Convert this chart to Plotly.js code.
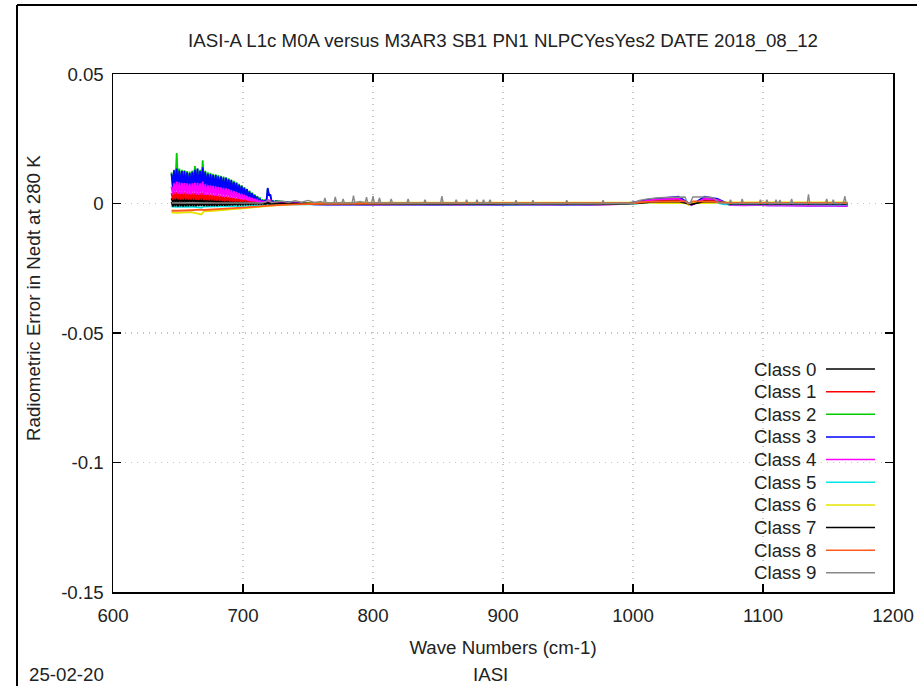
<!DOCTYPE html>
<html><head><meta charset="utf-8">
<script src="https://cdn.plot.ly/plotly-3.0.1.min.js"></script>
<style>html,body{margin:0;padding:0;background:#fff}#chart{width:917px;height:686px}</style>
</head><body><div id="chart"></div>
<script>
// ---------- DATA ----------
const classNames = ["Class 0","Class 1","Class 2","Class 3","Class 4","Class 5","Class 6","Class 7","Class 8","Class 9"];
const classColors = ["#000000","#ff0000","#00cc00","#0000ff","#ff00ff","#00e5e5","#e5e500","#000000","#ff5a1a","#888888"];

const xTickVals = [600,700,800,900,1000,1100,1200];
const xTickText = ["600","700","800","900","1000","1100","1200"];
const yTickVals = [0.05,0,-0.05,-0.1,-0.15];
const yTickText = ["0.05","0","-0.05","-0.1","-0.15"];

// noisy start of the band: channel peaks (odd wavenumbers) and troughs (even wavenumbers)
const wnPeak = [645,647,649,651,653,655,657,659,661,663,665,667,669,671,673,675,677,679,681,683,685,687,689,691,693,695,697,699,701,703,705,707,709,711,713,715,717,719,721,723,725];
const wnTrough = [646,648,650,652,654,656,658,660,662,664,666,668,670,672,674,676,678,680,682,684,686,688,690,692,694,696,698,700,702,704,706,708,710,712,714,716,718,720,722,724];
// rest of the band
const wnCoarse = [735,745,755,
  765,775,785,795,805,815, 825,835,845,855,865,875, 885,895,905,915,925,935, 945,955,965,975,985,995,
  1005,1015,1025,1035,1045,1055,1065,1075,
  1085,1095,1105,1115,1125,1135,1145,1155,1165];

// Class 0
const err0Peak = [.002,.0022,.0023,.0022,.0021,.0021,.002,.002,.002,.0021, .0021,.0022,.0024,.002,.0019,.0019,.0018,.0018,.0017,.0017, .0016,.0016,.0015,.0014,.0013,.0012,.0011,.001,.0009,.0008, .0007,.0006,.0005,.0004,.0003,.0002,.0002,.0006,.0003,.0001, .0001];
const err0Trough = [.0005,.0006,.0006,.0005,.0005,.0005,.0005,.0005,.0004,.0004, .0004,.0004,.0004,.0004,.0004,.0003,.0003,.0003,.0003,.0003, .0003,.0002,.0002,.0002,.0002,.0001,.0001,.0001,.0001,0, 0,0,0,0,0,0,0,.0002,0,0];
const err0Coarse = [0,0,0,
  0,0.0001,0,0,0.0001,0, 0,0,0.0001,0,0,0, 0,0.0001,0,0,0,0, 0,0,0,0,0,0.0001,
  0.0003,0.0008,0.001,0.001,-0.0002,0.001,0.0008,0,
  0,0,0,0,0,0,0,0,0];

// Class 1
const err1Peak = [.004,.0044,.0045,.0044,.0043,.0043,.0042,.0042,.0041,.0041, .004,.004,.0042,.0038,.0036,.0035,.0034,.0033,.0031,.003, .0028,.0027,.0025,.0024,.0022,.002,.0019,.0017,.0016,.0014, .0012,.001,.0009,.0007,.0006,.0005,.0004,.0008,.0006,.0002, .0002];
const err1Trough = [.0015,.0016,.0016,.0015,.0015,.0015,.0015,.0015,.0014,.0014, .0014,.0014,.0013,.0013,.0012,.0012,.0011,.0011,.001,.001, .0009,.0009,.0008,.0008,.0007,.0007,.0006,.0006,.0005,.0005, .0004,.0004,.0003,.0002,.0001,.0001,.0001,.0004,.0001,.0001];
const err1Coarse = [0.0001,0,-0.0001,
  -0.0001,-0.0001,-0.0002,-0.0001,-0.0001,-0.0001, -0.0002,-0.0001,-0.0001,-0.0001,-0.0002,-0.0001, -0.0001,-0.0001,-0.0002,-0.0001,-0.0001,-0.0001, -0.0001,-0.0002,-0.0001,-0.0001,-0.0001,0,
  0.0005,0.0011,0.0013,0.0014,-0.0003,0.0014,0.0011,-0.0002,
  -0.0002,-0.0002,-0.0003,-0.0002,-0.0002,-0.0003,-0.0002,-0.0003,-0.0003];

// Class 2
const err2Peak = [.012,.013,.0195,.0135,.013,.0128,.0125,.0123,.0127,.0145, .0135,.013,.0167,.0126,.012,.0118,.0115,.0113,.011,.0107, .0104,.0101,.0097,.0092,.0087,.0082,.0076,.007,.0063,.0056, .0049,.0042,.0035,.0028,.0021,.0014,.0013,.0055,.0032,.001, .001];
const err2Trough = [.007,.0075,.0075,.0073,.0072,.007,.007,.007,.0072,.0073, .007,.0072,.0073,.007,.0068,.0066,.0064,.0062,.006,.0058, .0056,.0054,.0052,.005,.0047,.0044,.0041,.0038,.0035,.0031, .0027,.0023,.0019,.0015,.0011,.0008,.0008,.0035,.0008,.0005];
const err2Coarse = [0.0005,0.0002,-0.0002,
  -0.0003,-0.0002,-0.0003,-0.0003,-0.0004,-0.0003, -0.0002,-0.0003,-0.0003,-0.0004,-0.0003,-0.0002, -0.0003,-0.0003,-0.0004,-0.0003,-0.0003,-0.0002, -0.0003,-0.0003,-0.0004,-0.0003,-0.0002,0,
  0.0006,0.0015,0.0018,0.0021,-0.0005,0.0021,0.0015,-0.0005,
  -0.0005,-0.0005,-0.0006,-0.0005,-0.0006,-0.0006,-0.0005,-0.0006,-0.0007];

// Class 3
const err3Peak = [.0115,.0128,.0135,.0127,.0125,.0125,.012,.0117,.0122,.013, .0135,.0125,.014,.0122,.0115,.0114,.011,.011,.0105,.0104, .01,.0099,.0093,.009,.0083,.008,.0072,.0068,.006,.0055, .0046,.004,.0032,.0026,.0018,.0012,.0012,.006,.0035,.0008, .0008];
const err3Trough = [.006,.0065,.0065,.0063,.0062,.006,.006,.006,.0062,.0063, .006,.0062,.0063,.006,.0058,.0056,.0054,.0052,.005,.0048, .0046,.0044,.0042,.004,.0037,.0034,.0031,.0028,.0025,.0022, .0018,.0014,.001,.0007,.0004,.0002,.0004,.003,.0006,.0002];
const err3Coarse = [0.0004,0.0001,-0.0003,
  -0.0004,-0.0003,-0.0004,-0.0005,-0.0004,-0.0003, -0.0004,-0.0004,-0.0005,-0.0004,-0.0003,-0.0004, -0.0004,-0.0005,-0.0004,-0.0004,-0.0003,-0.0004, -0.0005,-0.0004,-0.0004,-0.0003,-0.0002,0,
  0.0008,0.0018,0.0022,0.0026,-0.0006,0.0026,0.0018,-0.0006,
  -0.0006,-0.0005,-0.0007,-0.0006,-0.0007,-0.0008,-0.0007,-0.0008,-0.0009];

// Class 4
const err4Peak = [.0065,.0078,.0085,.0082,.008,.0079,.0078,.0077,.0078,.008, .008,.0078,.0085,.0074,.007,.0069,.0068,.0066,.0063,.0062, .006,.0058,.0055,.0052,.0048,.0044,.004,.0037,.0033,.0029, .0025,.0021,.0018,.0014,.001,.0007,.0006,.0015,.0012,.0004, .0004];
const err4Trough = [.0035,.0038,.0038,.0037,.0037,.0036,.0036,.0035,.0035,.0035, .0034,.0034,.0033,.0033,.0032,.0031,.003,.0029,.0028,.0027, .0026,.0025,.0023,.0022,.002,.0018,.0017,.0015,.0013,.0011, .001,.0008,.0006,.0005,.0003,.0002,.0002,.0008,.0002,.0001];
const err4Coarse = [0.0002,0,-0.0003,
  -0.0004,-0.0004,-0.0003,-0.0004,-0.0005,-0.0004, -0.0004,-0.0003,-0.0004,-0.0004,-0.0005,-0.0004, -0.0004,-0.0004,-0.0003,-0.0004,-0.0004,-0.0005, -0.0004,-0.0004,-0.0003,-0.0004,-0.0003,-0.0001,
  0.0006,0.0014,0.0017,0.0019,-0.0006,0.0019,0.0014,-0.0006,
  -0.0007,-0.0006,-0.0007,-0.0007,-0.0008,-0.0007,-0.0008,-0.0008,-0.0009];

// Class 7
const err7Peak = [.0006,.0007,.0008,.0007,.0007,.0007,.0007,.0006,.0006,.0007, .0007,.0008,.0009,.0006,.0005,.0005,.0005,.0005,.0004,.0004, .0004,.0004,.0003,.0003,.0003,.0003,.0002,.0002,.0002,.0002, .0001,.0001,.0001,.0001,0,0,0,.0003,0,0, 0];
const err7Trough = [-.0012,-.0011,-.0012,-.0011,-.0012,-.0011,-.0011,-.001,-.0011,-.0011, -.001,-.001,-.001,-.001,-.0009,-.0009,-.0009,-.0009,-.0008,-.0008, -.0008,-.0008,-.0007,-.0007,-.0006,-.0006,-.0005,-.0005,-.0004,-.0004, -.0003,-.0003,-.0002,-.0002,-.0002,-.0001,-.0001,-.0001,-.0001,-.0001];
const err7Coarse = [0,-0.0001,-0.0001,
  -0.0001,-0.0001,-0.0001,-0.0001,-0.0001,-0.0001, -0.0001,-0.0001,-0.0001,-0.0001,-0.0001,-0.0001, -0.0001,-0.0001,-0.0001,-0.0001,-0.0001,-0.0001, -0.0001,-0.0001,-0.0001,-0.0001,-0.0001,0,
  0.0002,0.0006,0.0007,0.0008,-0.0003,0.0008,0.0006,-0.0001,
  -0.0001,-0.0001,-0.0001,-0.0001,-0.0001,-0.0001,-0.0001,-0.0001,-0.0001];

// smooth classes on their own grid
const wnSmooth = [645,650,660,668,670,680,690,700,710,720,730,740,760,800,850,900,950,1000,1010,1020,1030,1040,1043,1046,1050,1060,1065,1070,1080,1100,1130,1165];
const err5 = [-0.0012,-0.0013,-0.0012,-0.0016,-0.0012,-0.0011,-0.001,-0.0009,-0.0007,-0.0005,-0.0004,-0.0003,-0.0003,-0.0003,-0.0003,-0.0003,-0.0003,-0.0001,0.0003,0.0005,0.0006,0.0006,-0.0004,0.0005,0.0006,0.0005,0.0002,-0.0003,-0.0003,-0.0003,-0.0003,-0.0004];
const err6 = [-0.0035,-0.0036,-0.0033,-0.0042,-0.003,-0.0027,-0.0023,-0.0019,-0.0014,-0.0009,-0.0005,-0.0002,0.0002,0.0003,0.0003,0.0003,0.0003,0.0003,0.0004,0.0002,0.0002,0.0002,-0.0006,0.0002,0.0002,0.0002,0.0003,0.0004,0.0004,0.0004,0.0004,0.0004];
const err8 = [-0.0028,-0.0028,-0.0026,-0.0024,-0.0025,-0.0022,-0.0019,-0.0016,-0.0012,-0.0008,-0.0005,-0.0003,-0.0001,0,0.0001,0.0001,0.0001,0.0001,0.0006,0.0007,0.0008,0.0008,0,0.0008,0.0008,0.0007,0.0005,0.0002,0.0002,0.0002,0.0002,0.0002];

// class 9 (grey) with its spikes
const wn9 = [645,660,680,700,715,720,722,725,730,735,740,745,750,755,760,
  762,763,764, 770,771,772, 776,777,778, 784,785,786, 790, 794,795,796, 799,800,801, 804,805,806, 813,814,815,
  826,827,828, 839,840,841, 852,853,854, 863,864,865, 871,872,873, 879,880,881, 884,885,886, 889,890,891,
  909,910,911, 922,923,924, 948,949,950, 976,977,978,
  1000,1005,1010,1020,1030,1040,1042,1044,1046,1055,1062,1066,
  1070,1074,1075,1076, 1083,1084,1085, 1097,1098,1099, 1102,1103,1104, 1109,1110,1111, 1112,1113,1114,
  1121,1122,1123, 1134,1135,1136, 1148,1149,1150, 1153,1154,1155, 1160,1162,1163,1164,1165];
const err9 = [0.0002,0.0003,0.0002,0.0002,0.0002,0.0012,0.0003,0.0006,0.0009,0.0004,0.0011,0.0005,0.0012,0.0004,0.0008,
  0.0002,0.0022,0.0002, 0.0003,0.0025,0.0003, 0.0002,0.0018,0.0002, 0.0003,0.003,0.0003, 0.0008, 0.0003,0.0024,0.0003, 0.0003,0.0028,0.0003, 0.0003,0.0022,0.0002, 0.0002,0.0018,0.0002,
  0.0001,0.0018,0.0001, 0.0001,0.0015,0.0001, 0.0002,0.0028,0.0002, 0.0001,0.0015,0.0001, 0.0001,0.0015,0.0001, 0.0001,0.0015,0.0001, 0.0001,0.0014,0.0001, 0.0001,0.0015,0.0001,
  0,0.0013,0, 0,0.0013,0, 0,0.0012,0, 0,0.0012,0,
  0.0002,0.0012,0.0017,0.0022,0.0024,0.0025,0.0001,0.0001,0.0025,0.0025,0.0022,0.0003,
  0,0,0.0015,0, 0,0.0018,0, 0,0.0015,0, 0,0.0015,0, 0,0.0015,0, 0,0.0014,0,
  0,0.0018,0, 0,0.0035,0, 0,0.0018,0, 0,0.0015,0, 0,0.0006,0.0028,0,-0.0002];

// ---------- TRACES ----------
function interleave(a, b) {
  const out = [];
  for (let i = 0; i < a.length; i++) { out.push(a[i]); if (i < b.length) out.push(b[i]); }
  return out;
}
const wnA = interleave(wnPeak, wnTrough).concat(wnCoarse);
const seriesX = [wnA, wnA, wnA, wnA, wnA, wnSmooth, wnSmooth, wnA, wnSmooth, wn9];
const seriesY = [
  interleave(err0Peak, err0Trough).concat(err0Coarse),
  interleave(err1Peak, err1Trough).concat(err1Coarse),
  interleave(err2Peak, err2Trough).concat(err2Coarse),
  interleave(err3Peak, err3Trough).concat(err3Coarse),
  interleave(err4Peak, err4Trough).concat(err4Coarse),
  err5, err6,
  interleave(err7Peak, err7Trough).concat(err7Coarse),
  err8, err9];
const lineWidths = [1.8, 1.8, 1.8, 1.8, 1.8, 1.8, 1.8, 1.8, 1.8, 1.4];

const traces = classNames.map((n, i) => ({
  type: 'scatter', mode: 'lines', name: n, x: seriesX[i], y: seriesY[i],
  line: {color: classColors[i], width: lineWidths[i], shape: 'linear', simplify: false},
  showlegend: false, hoverinfo: 'skip'
}));

// ---------- LAYOUT ----------
const L = 113, R = 893, T = 74, B = 592;
const px = v => (v - L) / (R - L);
const py = v => (B - v) / (B - T);
const FONT = 'Liberation Sans, Arial, sans-serif';
const FS = 18.7;
const TXT = '#222';

const annotations = [
  {text: 'Radiometric Error in Nedt at 280 K', xref: 'paper', yref: 'paper', x: px(33), y: py(298),
   textangle: -90, showarrow: false, font: {size: FS, color: TXT}, xanchor: 'center', yanchor: 'middle'},
  {text: 'IASI', xref: 'paper', yref: 'paper', x: px(490), y: py(674), showarrow: false,
   font: {size: FS, color: TXT}, xanchor: 'center', yanchor: 'middle'},
  {text: '25-02-20', xref: 'paper', yref: 'paper', x: px(27), y: py(674), showarrow: false,
   font: {size: FS, color: TXT}, xanchor: 'left', yanchor: 'middle'}
];
const shapes = [
  {type: 'line', xref: 'paper', yref: 'paper', x0: px(17), x1: px(17), y0: py(5), y1: py(700), line: {color: '#000', width: 2}},
  {type: 'line', xref: 'paper', yref: 'paper', x0: px(17), x1: px(930), y0: py(5), y1: py(5), line: {color: '#000', width: 2}}
];
classNames.forEach((n, i) => {
  const yy = 369 + i * 22.65;
  annotations.push({text: n, xref: 'paper', yref: 'paper', x: px(818), y: py(yy), showarrow: false,
    xanchor: 'right', yanchor: 'middle', font: {size: FS, color: TXT}});
  shapes.push({type: 'line', xref: 'paper', yref: 'paper', x0: px(826), x1: px(875), y0: py(yy), y1: py(yy),
    line: {color: classColors[i], width: 1.5}});
});

const axisCommon = {
  showline: true, linecolor: '#000', linewidth: 1.5, mirror: 'ticks',
  ticks: 'inside', ticklen: 8, tickcolor: '#000', tickwidth: 1.5,
  showgrid: true, gridcolor: '#c4c4c4', griddash: '1px,5px', gridwidth: 1.2,
  zeroline: false, tickfont: {size: FS, color: TXT}
};

const layout = {
  width: 917, height: 686,
  margin: {l: L, r: 917 - R, t: T, b: 686 - B, pad: 0},
  paper_bgcolor: '#fff', plot_bgcolor: '#fff',
  font: {family: FONT, size: FS, color: TXT},
  title: {text: 'IASI-A L1c M0A versus M3AR3 SB1 PN1 NLPCYesYes2 DATE 2018_08_12',
    x: 0.5, xref: 'paper', xanchor: 'center', y: 1 - 40 / 686, yref: 'container', yanchor: 'middle',
    font: {size: FS, color: TXT}},
  xaxis: Object.assign({}, axisCommon, {range: [600, 1200], tickvals: xTickVals, ticktext: xTickText,
    title: {text: 'Wave Numbers (cm-1)', standoff: 16, font: {size: FS, color: TXT}}, ticklabelstandoff: 6}),
  yaxis: Object.assign({}, axisCommon, {range: [-0.15, 0.05], tickvals: yTickVals, ticktext: yTickText,
    ticklabelstandoff: 4}),
  showlegend: false,
  annotations: annotations,
  shapes: shapes
};

Plotly.newPlot('chart', traces, layout, {displayModeBar: false, staticPlot: true});
</script></body></html>
